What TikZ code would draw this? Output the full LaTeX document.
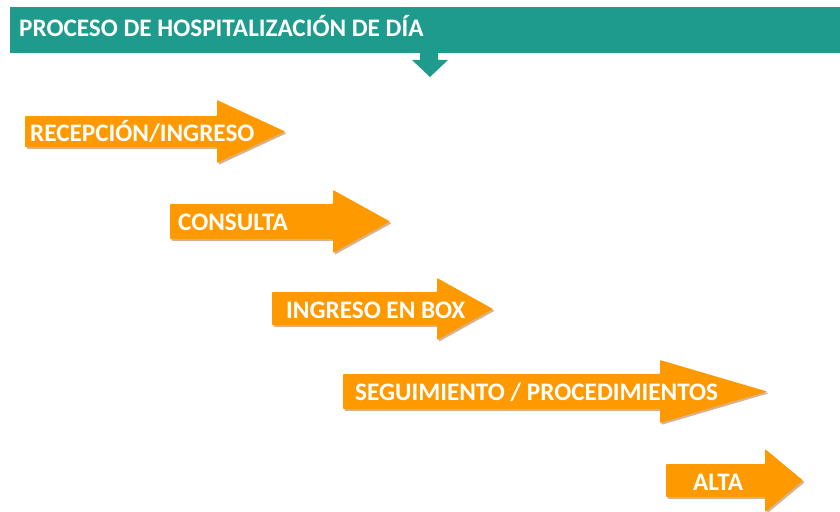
\documentclass[tikz,border=0pt]{standalone}
\usepackage{fontspec}
\setmainfont{Carlito}
\definecolor{teal}{RGB}{30,155,140}
\definecolor{orng}{RGB}{255,153,0}
\definecolor{shad}{RGB}{205,160,120}
\tikzset{
  lbl/.style={text=white,font=\bfseries\fontsize{25.2}{30}\selectfont,inner sep=0pt,anchor=base west},
  arrowfill/.style={fill=orng,rounded corners=0.8pt},
  arrowshadow/.style={fill=shad,opacity=0.8,rounded corners=0.8pt}
}
% #1 x0, #2 xb, #3 y1, #4 y2, #5 h1, #6 h2, #7 xa
\newcommand\myarrowpath[7]{(#1,#3) -- (#2,#3) -- (#2,#5) -- (#7,{(#5+#6)/2}) -- (#2,#6) -- (#2,#4) -- (#1,#4) -- cycle}
\newcommand\myarrow[7]{%
  \fill[arrowshadow,shift={(1.6,1.8)}] \myarrowpath{#1}{#2}{#3}{#4}{#5}{#6}{#7};
  \fill[arrowfill] \myarrowpath{#1}{#2}{#3}{#4}{#5}{#6}{#7};
}
\begin{document}
\begin{tikzpicture}[x=1pt,y=-1pt]
\useasboundingbox (0,0) rectangle (840,511);
% header
\fill[teal] (10,7) rectangle (840,53);
\node[lbl] (title) at (19,36.7) {PROCESO DE HOSPITALIZACIÓN DE DÍA};
\fill[teal] (420,52) -- (438,52) -- (438,60) -- (448,60) -- (430,77) -- (412,60) -- (420,60) -- cycle;
% arrows
\myarrow{25}{217}{116}{147}{100}{163}{285}
\node[lbl] (recep) at (30,141.7) {RECEPCIÓN/INGRESO};
\myarrow{170}{333}{204}{239}{190}{253}{390}
\node[lbl] (consulta) at (178,230.7) {CONSULTA};
\myarrow{272}{437}{292}{325}{278}{340}{493}
\node[lbl] (box) at (286,318.3) {INGRESO EN BOX};
\myarrow{343}{660}{374}{409}{360}{423}{767}
\node[lbl] (seg) at (355,400) {SEGUIMIENTO / PROCEDIMIENTOS};
\myarrow{666}{765}{464}{497}{449}{512}{803}
\node[lbl] (alta) at (693,490) {ALTA};
\end{tikzpicture}
\end{document}
